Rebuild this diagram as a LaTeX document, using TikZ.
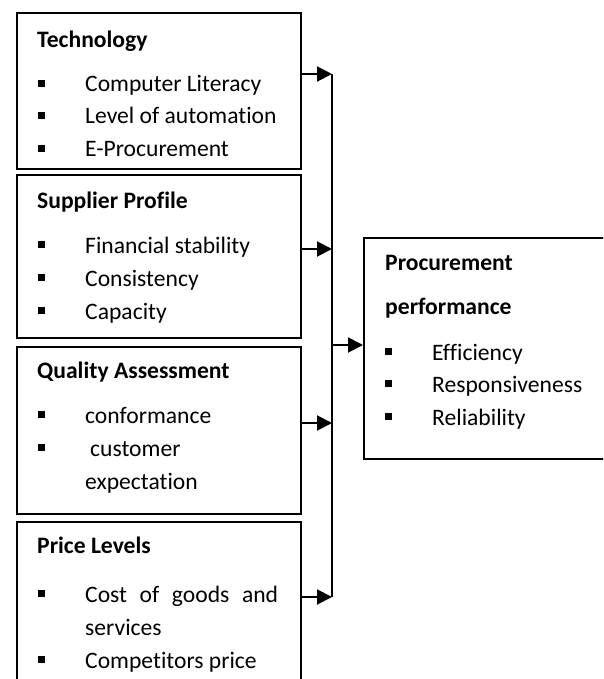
\documentclass[tikz,border=0pt]{standalone}
\usepackage{fontspec}
\setmainfont[Ligatures={NoCommon}]{Carlito}
\usetikzlibrary{arrows.meta}
\newcommand{\bul}{\makebox[47pt][l]{\rule[5pt]{7pt}{7pt}}}
\begin{document}
\begin{tikzpicture}[x=1pt,y=-1pt,
  box/.style={draw=black,line width=2.2pt,rectangle,inner sep=0pt,anchor=north west},
  txt/.style={anchor=base west,inner sep=0pt,font=\fontsize{23.6}{28}\selectfont},
  ttl/.style={txt,font=\fontsize{23.6}{28}\selectfont\bfseries},
  arr/.style={line width=2pt,-{Triangle[length=15pt,width=15pt]}},
  bus/.style={line width=2.4pt}]
\clip (0,0) rectangle (603,679);
\fill[white] (0,0) rectangle (603,679);
% boxes
\node[box,minimum width=284pt,minimum height=156pt] (tech) at (16,12) {};
\node[box,minimum width=284pt,minimum height=163pt] (supp) at (16,174) {};
\node[box,minimum width=284pt,minimum height=167pt] (qual) at (16,346) {};
\node[box,minimum width=284pt,minimum height=200pt] (price) at (16,521) {};
\node[box,minimum width=270pt,minimum height=221pt] (proc) at (363,237) {};
% texts
\node[ttl] (t0) at (37,48) {Technology};
\node[txt] (t1) at (38,92) {\bul Computer Literacy};
\node[txt] (t2) at (38,124) {\bul Level of automation};
\node[txt] (t3) at (38,157) {\bul E-Procurement};
\node[ttl] (s0) at (37,208) {Supplier Profile};
\node[txt] (s1) at (38,253) {\bul Financial stability};
\node[txt] (s2) at (38,286) {\bul Consistency};
\node[txt] (s3) at (38,319) {\bul Capacity};
\node[ttl] (q0) at (37,378) {Quality Assessment};
\node[txt] (q1) at (38,423) {\bul conformance};
\node[txt] (q2) at (38,456) {\bul\hspace{5pt}customer};
\node[txt] (q3) at (85,489) {expectation};
\node[ttl] (p0) at (37,553) {Price Levels};
\node[txt] (p1) at (38,602) {\bul\makebox[193pt][s]{Cost of goods and}};
\node[txt] (p2) at (85,635) {services};
\node[txt] (p3) at (38,668) {\bul Competitors price};
\node[ttl] (r0) at (385,270) {Procurement};
\node[ttl] (r1) at (385,314) {performance};
\node[txt] (r2) at (385,360) {\bul Efficiency};
\node[txt] (r3) at (385,392) {\bul Responsiveness};
\node[txt] (r4) at (385,425) {\bul Reliability};
% connectors
\coordinate (b1) at (332,74);
\coordinate (b2) at (332,249);
\coordinate (bm) at (332,345);
\coordinate (b3) at (332,423);
\coordinate (b4) at (332,597);
\draw[bus] (b1) -- (b4);
\draw[arr] (tech.east |- b1) -- (b1);
\draw[arr] (supp.east |- b2) -- (b2);
\draw[arr] (qual.east |- b3) -- (b3);
\draw[arr] (price.east |- b4) -- (b4);
\draw[arr] (bm) -- (proc.west |- bm);
\end{tikzpicture}
\end{document}
